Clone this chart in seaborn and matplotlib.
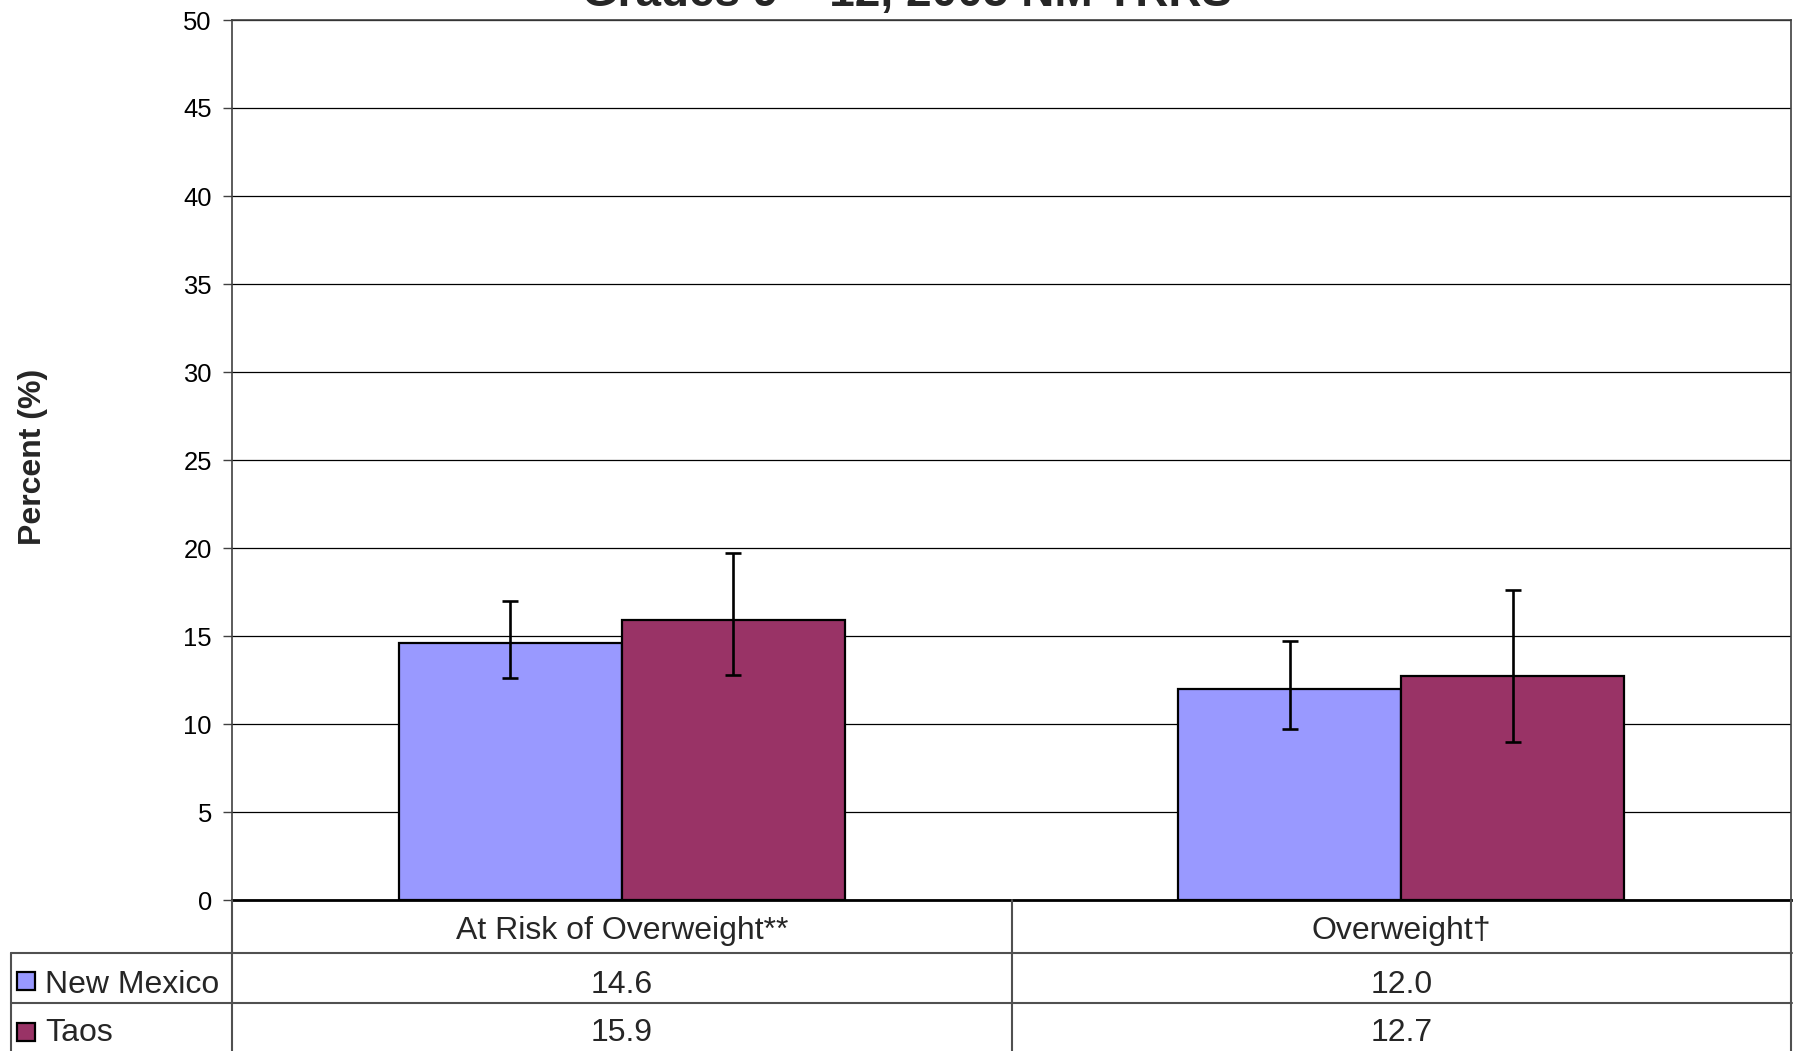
import numpy as np
import pandas as pd
import matplotlib
matplotlib.use("Agg")
import matplotlib.pyplot as plt
import seaborn as sns
from matplotlib.lines import Line2D
from matplotlib.patches import Rectangle
from matplotlib.transforms import blended_transform_factory

# ---- data ----
categories = ["At Risk of Overweight**", "Overweight\u2020"]
regions = ["New Mexico", "Taos"]
nm_values = [14.6, 12.0]
taos_values = [15.9, 12.7]
nm_lower = [12.6, 9.7]
nm_upper = [17.0, 14.7]
taos_lower = [12.8, 9.0]
taos_upper = [19.7, 17.6]
y_ticks = [0, 5, 10, 15, 20, 25, 30, 35, 40, 45, 50]
colors = ["#9999FF", "#993366"]
title_text = "Grades 9 \u2013 12, 2005 NM YRRS"
ylabel_text = "Percent (%)"

df = pd.DataFrame({
    "category": categories * 2,
    "region": [regions[0]] * 2 + [regions[1]] * 2,
    "value": nm_values + taos_values,
})

sns.set_theme(style="white")
plt.rcParams["font.family"] = ["Liberation Sans", "DejaVu Sans"]

W, H = 1793, 1051
fig = plt.figure(figsize=(W / 100, H / 100), dpi=100)

def fx(px):
    return px / W

def fy(py):
    return 1 - py / H

ax_left, ax_right, ax_top, ax_bottom = 232, 1791, 20, 900
ax = fig.add_axes([fx(ax_left), fy(ax_bottom), fx(ax_right - ax_left), (ax_bottom - ax_top) / H])

sns.barplot(data=df, x="category", y="value", hue="region", order=categories,
            hue_order=regions, palette=colors, width=0.572, gap=0,
            edgecolor="black", linewidth=1.6, errorbar=None, legend=False,
            saturation=1, ax=ax)

lowers = [nm_lower, taos_lower]
uppers = [nm_upper, taos_upper]
vals = [nm_values, taos_values]
bar_containers = list(ax.containers)
for k, cont in enumerate(bar_containers):
    xs = [p.get_x() + p.get_width() / 2 for p in cont.patches]
    v = np.array(vals[k])
    lo = v - np.array(lowers[k])
    hi = np.array(uppers[k]) - v
    ax.errorbar(xs, v, yerr=[lo, hi], fmt="none", ecolor="black",
                elinewidth=1.9, capsize=5.8, capthick=1.9, zorder=5)

ax.set_xlim(-0.5, 1.5)
ax.set_ylim(0, 50)
ax.set_yticks(y_ticks)
ax.set_yticklabels([str(t) for t in y_ticks], fontsize=18.4, color="black")
ax.set_xticks([])
ax.set_xlabel("")
ax.set_ylabel("")
ax.yaxis.grid(True, color="black", linewidth=0.9)
ax.set_axisbelow(True)
ax.tick_params(axis="y", direction="out", length=6.5, width=1, color="#404040",
               left=True, pad=8)
for s in ["top", "right", "left"]:
    ax.spines[s].set_color("#404040")
    ax.spines[s].set_linewidth(1.2)
ax.spines["bottom"].set_color("black")
ax.spines["bottom"].set_linewidth(2)

# y label
fig.text(fx(33), fy(457), ylabel_text, rotation=90, fontsize=23, fontweight="bold",
         ha="center", va="center")

# title (top clipped like the reference)
fig.text(fx(907), fy(6), title_text, fontsize=33, fontweight="bold",
         ha="center", va="baseline")

# ---- data table below the axis ----
line_c = "#505050"
lw = 1.5
def hline(y, x0, x1):
    fig.add_artist(Line2D([fx(x0), fx(x1)], [fy(y), fy(y)], color=line_c, lw=lw))

def vline(x, y0, y1):
    fig.add_artist(Line2D([fx(x), fx(x)], [fy(y0), fy(y1)], color=line_c, lw=lw))

hline(953, 11, 1792)
hline(1003, 11, 1792)
vline(11, 953, 1051)
vline(232, 900, 1051)
vline(1012, 900, 1051)
vline(1791, 900, 1051)

trans = blended_transform_factory(ax.transData, fig.transFigure)
tick_pos = list(range(len(categories)))
for i, cat in enumerate(categories):
    ax.text(tick_pos[i], fy(931), cat, transform=trans, ha="center", va="center",
            fontsize=23, clip_on=False)
    ax.text(tick_pos[i], fy(985), f"{nm_values[i]:.1f}", transform=trans,
            ha="center", va="center", fontsize=23, clip_on=False)
    ax.text(tick_pos[i], fy(1033), f"{taos_values[i]:.1f}", transform=trans,
            ha="center", va="center", fontsize=23, clip_on=False)

row_text_y = [985, 1033]
row_key_y = [981, 1032]
for j, name in enumerate(regions):
    sq = 18
    fig.add_artist(Rectangle((fx(17), fy(row_key_y[j] + sq / 2)), fx(sq), sq / H,
                             facecolor=colors[j], edgecolor="black", lw=1.6))
    fig.text(fx(45), fy(row_text_y[j]), name, fontsize=23, ha="left", va="center")

fig.savefig("out.png", dpi=100, facecolor="white")
